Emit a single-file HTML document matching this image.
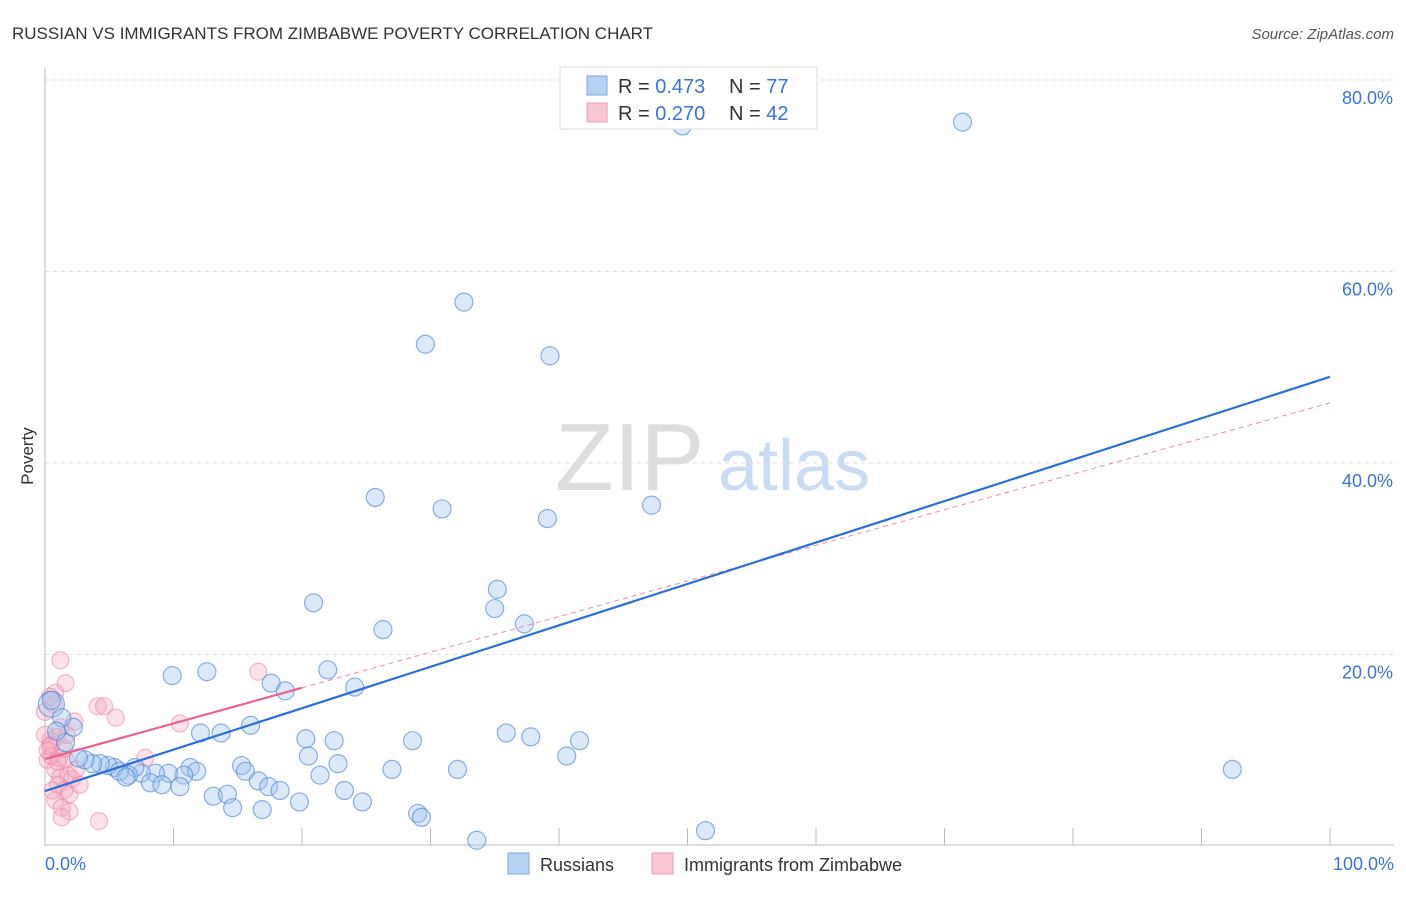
<!DOCTYPE html>
<html><head><meta charset="utf-8"><style>
body{margin:0;background:#fff;font-family:"Liberation Sans",sans-serif}
svg text{font-family:"Liberation Sans",sans-serif}
</style></head><body>
<svg width="1406" height="892" id="chart">
<text x="12" y="39" font-size="17" fill="#333">RUSSIAN VS IMMIGRANTS FROM ZIMBABWE POVERTY CORRELATION CHART</text>
<text x="1394" y="39" font-size="15" fill="#555" font-style="italic" text-anchor="end">Source: ZipAtlas.com</text>
<text x="33" y="456" font-size="17" fill="#333" transform="rotate(-90 33 456)" text-anchor="middle">Poverty</text>
<g>
<text x="555" y="490" font-size="96" fill="#ddd" font-family="Liberation Serif">ZIP</text>
<text x="718" y="490" font-size="72" fill="#c9dcf3">atlas</text>
</g>
<g id="grid"></g><g id="axes"></g><g id="marks"></g><g id="lines"></g>
<g>
<rect x="560" y="67" width="257" height="62" fill="#fff" stroke="#ddd"/>
<rect x="587" y="76" width="20" height="19" fill="#b7d1f3" stroke="#7aa7e3"/>
<text x="618" y="93" font-size="20" fill="#333">R = <tspan fill="#3b73d6">0.473</tspan></text>
<text x="729" y="93" font-size="20" fill="#333">N = <tspan fill="#3b73d6">77</tspan></text>
<rect x="587" y="103" width="20" height="19" fill="#f9c6d4" stroke="#ee9cb5"/>
<text x="618" y="120" font-size="20" fill="#333">R = <tspan fill="#3b73d6">0.270</tspan></text>
<text x="729" y="120" font-size="20" fill="#333">N = <tspan fill="#3b73d6">42</tspan></text>
</g>
<text x="45" y="870" font-size="18" fill="#3b73d6">0.0%</text>
<text x="1394" y="870" font-size="18" fill="#3b73d6" text-anchor="end">100.0%</text>
<rect x="508" y="853" width="21" height="21" fill="#b7d1f3" stroke="#7aa7e3"/>
<text x="540" y="871" font-size="18" fill="#333">Russians</text>
<rect x="652" y="853" width="21" height="21" fill="#f9c6d4" stroke="#ee9cb5"/>
<text x="684" y="871" font-size="18" fill="#333">Immigrants from Zimbabwe</text>
</svg>
<script>
const yTicks=[20,40,60,80];
const xTickCount=10;
const russX=[49.6,71.4,32.6,29.6,39.3,25.7,30.9,39.1,47.2,35.2,35.0,20.9,26.3,37.3,9.9,12.6,22.0,17.6,18.7,24.1,0.5,16.0,12.1,13.7,20.3,22.5,28.6,35.9,37.8,41.6,1.6,2.2,20.5,40.6,92.4,32.1,27.0,22.8,21.4,15.3,15.6,11.3,11.8,10.8,9.6,8.6,7.5,7.0,6.5,5.4,4.9,4.3,3.7,3.1,2.6,5.8,6.3,8.2,9.1,10.5,16.6,17.4,18.3,23.3,13.1,14.2,19.8,24.7,14.6,16.9,29.0,29.3,33.6,51.4,1.3,0.9,0.5];
const russY=[75.2,75.6,56.8,52.4,51.2,36.4,35.2,34.2,35.6,26.8,24.8,25.4,22.6,23.2,17.8,18.2,18.4,17.0,16.2,16.6,14.8,12.6,11.8,11.8,11.2,11.0,11.0,11.8,11.4,11.0,10.8,12.4,9.4,9.4,8.0,8.0,8.0,8.6,7.4,8.4,7.8,8.2,7.8,7.4,7.6,7.6,7.6,8.2,7.4,8.2,8.4,8.6,8.6,9.0,9.2,7.8,7.2,6.6,6.4,6.2,6.8,6.2,5.8,5.8,5.2,5.4,4.6,4.6,4.0,3.8,3.4,3.0,0.6,1.6,13.4,12.0,15.2];
const russSize=[9,9,9,9,9,9,9,9,9,9,9,9,9,9,9,9,9,9,9,9,13,9,9,9,9,9,9,9,9,9,9,9,9,9,9,9,9,9,9,9,9,9,9,9,9,9,9,9,9,9,9,9,9,9,9,9,9,9,9,9,9,9,9,9,9,9,9,9,9,9,9,9,9,9,9,9,9];
const zimX=[1.2,1.6,0.8,0.4,0.7,4.1,4.6,5.5,2.3,1.2,10.5,16.6,7.8,0.4,0.5,0.9,0.2,0.8,1.2,1.8,2.1,1.0,1.5,1.9,0.8,1.3,1.9,1.3,4.2,0.2,0.5,0.0,0.4,1.1,1.6,2.7,2.4,0.6,1.0,1.5,1.7,0.0];
const zimY=[19.4,17.0,16.0,15.6,14.8,14.6,14.6,13.4,13.0,12.4,12.8,18.2,9.2,11.0,10.6,11.4,9.0,8.0,7.2,7.4,7.0,6.4,5.8,5.4,4.8,4.0,3.6,3.0,2.6,10.0,9.4,11.6,10.4,9.2,9.0,6.4,8.0,5.8,8.8,10.2,11.6,14.0];
const fitRuss=[5.74,0.4326];
const fitZim=[9.08,0.372];
const zimSolidMax=20;
const X0=45,X1=1330,Y0=846,PPY=9.575;
const sx=v=>X0+(X1-X0)*v/100, sy=v=>Y0-v*PPY;
const NS='http://www.w3.org/2000/svg';
function mk(t,a,p){const e=document.createElementNS(NS,t);for(const k in a)e.setAttribute(k,a[k]);p.appendChild(e);return e;}
const grid=document.getElementById('grid');
yTicks.forEach(t=>{
 const l=mk('line',{x1:45,x2:1394,y1:sy(t),y2:sy(t),stroke:'#ddd','stroke-dasharray':'4,4'},grid);
 
 
 const tx=mk('text',{x:1393,y:sy(t)+24,'font-size':18,fill:'#3b73d6','text-anchor':'end'},grid);
 tx.textContent=t.toFixed(1)+'%';
 
 
});
const axes=document.getElementById('axes');
const ya=mk('line',{x1:45,x2:45,y1:68,y2:846,stroke:'#bbb'},axes);


const xa=mk('line',{x1:45,x2:1394,y1:845,y2:845,stroke:'#bbb'},axes);


for(let i=1;i<=xTickCount;i++){
 const x=sx(i*100/xTickCount);
 const t=mk('line',{x1:x,x2:x,y1:828,y2:845,stroke:'#bbb'},axes);
 
 
}
const marks=document.getElementById('marks');
zimX.forEach((v,i)=>{
 const c=mk('circle',{cx:sx(v),cy:sy(zimY[i]),r:8.5,fill:'rgba(245,170,192,0.35)',stroke:'rgba(235,130,162,0.55)','stroke-width':1.2},marks);
 
 
});
russX.forEach((v,i)=>{
 const c=mk('circle',{cx:sx(v),cy:sy(russY[i]),r:russSize[i],fill:'rgba(160,196,240,0.38)',stroke:'rgba(80,135,215,0.65)','stroke-width':1.2},marks);
 
 
});
const lines=document.getElementById('lines');
const zd=mk('line',{x1:sx(zimSolidMax),y1:sy(fitZim[0]+fitZim[1]*zimSolidMax),x2:sx(100),y2:sy(fitZim[0]+fitZim[1]*100),stroke:'#ec8aa8','stroke-width':1,'stroke-dasharray':'5,4'},lines);


const rl=mk('line',{x1:sx(0),y1:sy(fitRuss[0]),x2:sx(100),y2:sy(fitRuss[0]+fitRuss[1]*100),stroke:'#2a6fd8','stroke-width':2.2},lines);


const zl=mk('line',{x1:sx(0),y1:sy(fitZim[0]),x2:sx(zimSolidMax),y2:sy(fitZim[0]+fitZim[1]*zimSolidMax),stroke:'#e8628c','stroke-width':2.2},lines);


</script>
</body></html>
